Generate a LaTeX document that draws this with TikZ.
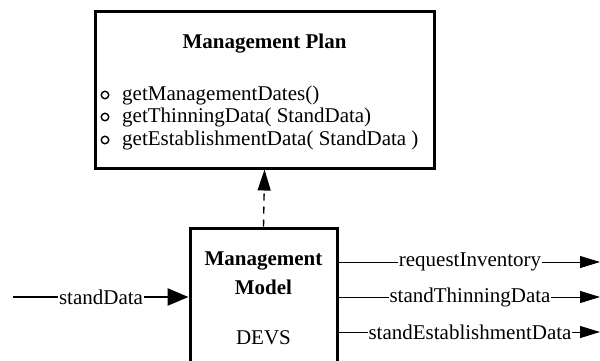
\documentclass[tikz,border=0pt]{standalone}
\usepackage{fontspec}
\setmainfont{Liberation Serif}
\usetikzlibrary{arrows.meta}

\tikzset{
  box/.style={draw, line width=3pt, rectangle, inner sep=0pt},
  txt/.style={inner sep=0pt, font=\fontsize{21}{23}\selectfont},
  btxt/.style={txt, font=\fontsize{21}{23}\selectfont\bfseries},
  lbl/.style={txt, fill=white, inner xsep=1pt, inner ysep=0pt},
  bullet/.style={draw, circle, line width=1.4pt, minimum size=7.5pt, inner sep=0pt},
  flow/.style={line width=1pt, -{Triangle[length=20pt,width=12pt]}},
  inflow/.style={line width=2.6pt, -{Triangle[length=21pt,width=17pt]}},
  uses/.style={line width=1.4pt, dash pattern=on 7pt off 6pt,
               -{Triangle[length=21pt,width=13pt]}},
}

\begin{document}
\begin{tikzpicture}[x=1pt, y=-1pt]
  \useasboundingbox (0,0) rectangle (600,360);
  \clip (0,0) rectangle (600,360);

  % Management Plan
  \node[box, minimum width=339pt, minimum height=157pt] (plan) at (264.5,89.5) {};
  \node[btxt, anchor=base] (plantitle) at (264.5,48) {Management Plan};
  \node[bullet] (b1) at (105,95) {};
  \node[bullet] (b2) at (105,117) {};
  \node[bullet] (b3) at (105,140) {};
  \node[txt, anchor=base west] (m1) at (122,100) {getManagementDates()};
  \node[txt, anchor=base west] (m2) at (122,122) {getThinningData( StandData)};
  \node[txt, anchor=base west] (m3) at (122,145) {getEstablishmentData( StandData )};

  % Management Model (runs past the lower edge)
  \node[box, minimum width=147pt, minimum height=150pt] (model) at (263.5,303) {};
  \node[btxt, anchor=base] (mt1) at (263.5,265) {Management};
  \node[btxt, anchor=base] (mt2) at (263.5,294) {Model};
  \node[txt, anchor=base] (mt3) at (263.5,344) {DEVS};

  % dependency of the model on the plan
  \draw[uses] (model.north) -- (plan.south);

  % input port
  \coordinate (inStart) at (13,297);
  \draw[inflow] (inStart) -- (model.west |- inStart);
  \node[lbl] (inLbl) at (101,297) {standData};

  % output ports
  \coordinate (out1) at (600,262);
  \coordinate (out2) at (600,297);
  \coordinate (out3) at (600,332);
  \draw[flow] (model.east |- out1) -- (out1);
  \draw[flow] (model.east |- out2) -- (out2);
  \draw[flow] (model.east |- out3) -- (out3);
  \node[lbl] (o1) at (470,262) {requestInventory};
  \node[lbl] (o2) at (470,297) {standThinningData};
  \node[lbl] (o3) at (470,332) {standEstablishmentData};
\end{tikzpicture}
\end{document}
